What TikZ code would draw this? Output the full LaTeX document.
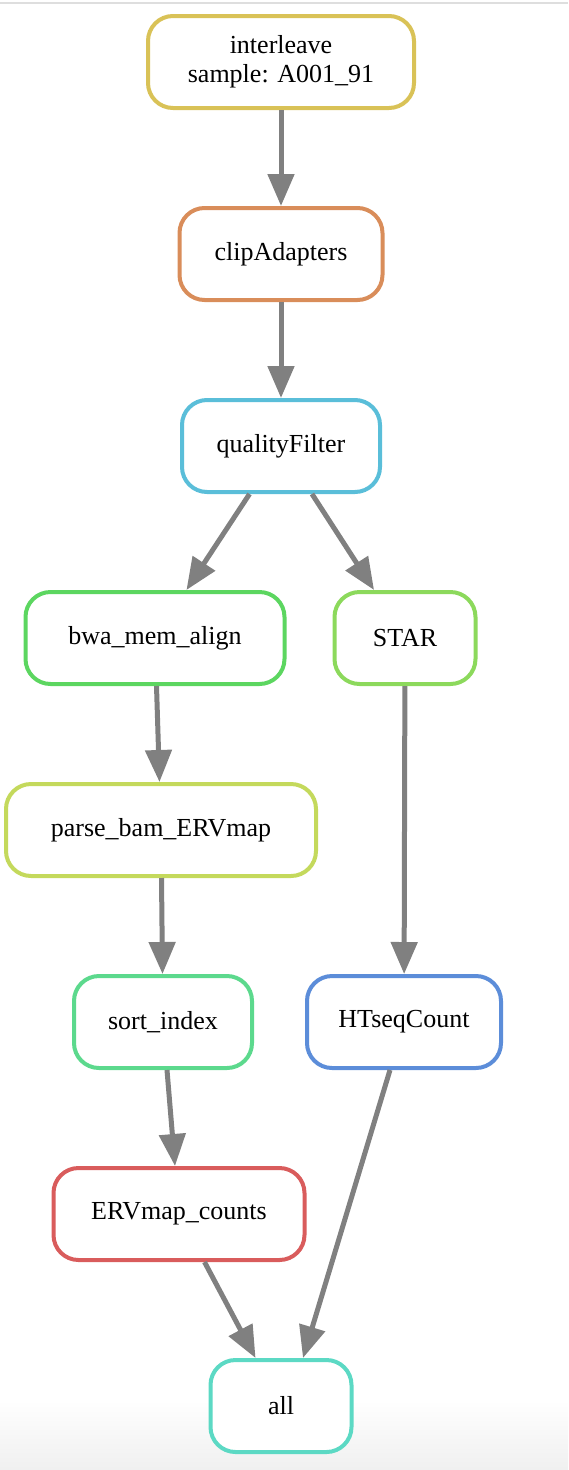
\documentclass[tikz,border=0pt]{standalone}
\usepackage{fontspec}
\setmainfont{Liberation Serif}
\usepackage{tikz}
\usetikzlibrary{arrows.meta,positioning}

\definecolor{cInterleave}{RGB}{217,194,87}
\definecolor{cClip}{RGB}{217,141,90}
\definecolor{cQuality}{RGB}{90,190,217}
\definecolor{cBwa}{RGB}{92,214,96}
\definecolor{cStar}{RGB}{140,217,92}
\definecolor{cParse}{RGB}{196,217,92}
\definecolor{cSort}{RGB}{92,217,141}
\definecolor{cHtseq}{RGB}{92,141,217}
\definecolor{cErv}{RGB}{217,92,92}
\definecolor{cAll}{RGB}{92,217,196}
\definecolor{edgegray}{RGB}{128,128,128}

\begin{document}
\begin{tikzpicture}[
			x=1pt, y=1pt,
			on grid,
			node distance=192pt,
			>={Triangle[length=32pt,width=26pt]},
			font=\fontsize{26}{29}\selectfont,
			rule/.style={
				rectangle,
				rounded corners=25pt,
				line width=4pt,
				align=center,
				minimum height=92pt,
				fill=white
			},
			edge/.style={
				->,
				draw=edgegray,
				line width=5pt
			}
			]
			% page and background
			\useasboundingbox (0,0) rectangle (568,-1470);
			\shade[top color=white, bottom color=black!6] (0,-1400) rectangle (568,-1470);
			\draw[line width=2pt, black!13] (0,-3) -- (568,-3);
			
			% We start by placing the rules
			\node [rule, draw=cInterleave, minimum width=266pt] (interleave) at (281,-62)
			{interleave\\sample: A001\_91};
			
			\node [rule, draw=cClip, minimum width=203pt, below=of interleave] (clipAdapters)
			{clipAdapters};
			
			\node [rule, draw=cQuality, minimum width=198pt, below=of clipAdapters] (qualityFilter)
			{qualityFilter};
			
			\node [rule, draw=cBwa, minimum width=259pt, below=of qualityFilter, xshift=-126pt] (bwaMemAlign)
			{bwa\_mem\_align};
			
			\node [rule, draw=cStar, minimum width=141pt, below=of qualityFilter, xshift=124pt] (star)
			{STAR};
			
			\node [rule, draw=cParse, minimum width=310pt, below=of bwaMemAlign, xshift=6pt] (parseBam)
			{parse\_bam\_ERVmap};
			
			\node [rule, draw=cSort, minimum width=178pt, below=of parseBam, xshift=2pt] (sortIndex)
			{sort\_index};
			
			\node [rule, draw=cHtseq, minimum width=194pt, below=384pt of star, xshift=-1pt] (htseqCount)
			{HTseqCount};
			
			\node [rule, draw=cErv, minimum width=251pt, below=of sortIndex, xshift=16pt] (ervCounts)
			{ERVmap\_counts};
			
			\node [rule, draw=cAll, minimum width=141pt, below=of ervCounts, xshift=102pt] (all)
			{all};
			
			% then the dependencies
			\draw [edge] (interleave) -- (clipAdapters);
			\draw [edge] (clipAdapters) -- (qualityFilter);
			\draw [edge] (qualityFilter) -- (bwaMemAlign);
			\draw [edge] (qualityFilter) -- (star);
			\draw [edge] (bwaMemAlign) -- (parseBam);
			\draw [edge] (star) -- (htseqCount);
			\draw [edge] (parseBam) -- (sortIndex);
			\draw [edge] (sortIndex) -- (ervCounts);
			\draw [edge] (ervCounts) -- (all);
			\draw [edge] ([xshift=-14pt]htseqCount.south) -- ([xshift=22pt]all.north);
			
\end{tikzpicture}
\end{document}
